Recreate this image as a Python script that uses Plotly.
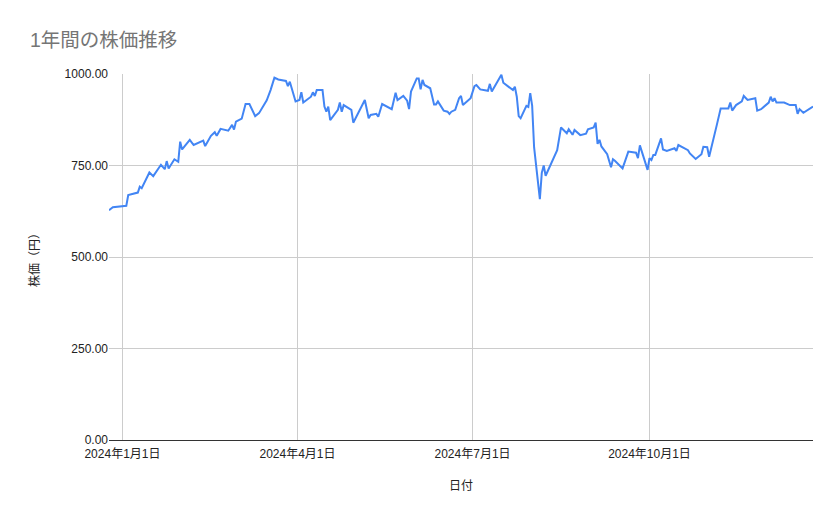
import plotly.graph_objects as go

dates = [
    "2023-12-25", "2023-12-27", "2024-01-03", "2024-01-04", "2024-01-09", "2024-01-10", "2024-01-11",
    "2024-01-15", "2024-01-17", "2024-01-21", "2024-01-23", "2024-01-24", "2024-01-25", "2024-01-28",
    "2024-01-30", "2024-01-31", "2024-02-01", "2024-02-05", "2024-02-07", "2024-02-12", "2024-02-13",
    "2024-02-16", "2024-02-18", "2024-02-19", "2024-02-21", "2024-02-25", "2024-02-27", "2024-02-28",
    "2024-02-29", "2024-03-03", "2024-03-05", "2024-03-07", "2024-03-10", "2024-03-12", "2024-03-16",
    "2024-03-18", "2024-03-20", "2024-03-22", "2024-03-26", "2024-03-27", "2024-03-28", "2024-03-31",
    "2024-04-02", "2024-04-03", "2024-04-04", "2024-04-08", "2024-04-09", "2024-04-10", "2024-04-11",
    "2024-04-14", "2024-04-15", "2024-04-16", "2024-04-17", "2024-04-18", "2024-04-22", "2024-04-23",
    "2024-04-24", "2024-04-25", "2024-04-29", "2024-04-30", "2024-05-06", "2024-05-08", "2024-05-09",
    "2024-05-12", "2024-05-13", "2024-05-15", "2024-05-20", "2024-05-22", "2024-05-23", "2024-05-26",
    "2024-05-28", "2024-05-29", "2024-05-30", "2024-06-02", "2024-06-03", "2024-06-04", "2024-06-05",
    "2024-06-06", "2024-06-09", "2024-06-11", "2024-06-12", "2024-06-13", "2024-06-16", "2024-06-18",
    "2024-06-19", "2024-06-20", "2024-06-22", "2024-06-24", "2024-06-25", "2024-06-26", "2024-06-30",
    "2024-07-02", "2024-07-03", "2024-07-05", "2024-07-09", "2024-07-10", "2024-07-11", "2024-07-16",
    "2024-07-17", "2024-07-22", "2024-07-23", "2024-07-24", "2024-07-25", "2024-07-26", "2024-07-29",
    "2024-07-30", "2024-07-31", "2024-08-01", "2024-08-02", "2024-08-05", "2024-08-06", "2024-08-07",
    "2024-08-08", "2024-08-14", "2024-08-16", "2024-08-19", "2024-08-20", "2024-08-22", "2024-08-23",
    "2024-08-26", "2024-08-29", "2024-08-30", "2024-09-02", "2024-09-03", "2024-09-04", "2024-09-05",
    "2024-09-06", "2024-09-09", "2024-09-11", "2024-09-12", "2024-09-13", "2024-09-17", "2024-09-20",
    "2024-09-24", "2024-09-25", "2024-09-26", "2024-09-30", "2024-10-01", "2024-10-02", "2024-10-03",
    "2024-10-04", "2024-10-07", "2024-10-08", "2024-10-10", "2024-10-14", "2024-10-15", "2024-10-16",
    "2024-10-21", "2024-10-22", "2024-10-25", "2024-10-28", "2024-10-29", "2024-10-31", "2024-11-01",
    "2024-11-05", "2024-11-07", "2024-11-11", "2024-11-12", "2024-11-13", "2024-11-15", "2024-11-18",
    "2024-11-19", "2024-11-21", "2024-11-25", "2024-11-26", "2024-11-28", "2024-12-02", "2024-12-03",
    "2024-12-04", "2024-12-05", "2024-12-06", "2024-12-10", "2024-12-13", "2024-12-16", "2024-12-17",
    "2024-12-18", "2024-12-20", "2024-12-23", "2024-12-25",
]

prices = [
    628, 636, 640, 669, 676, 692, 688,
    731, 721, 752, 740, 762, 742, 767,
    760, 815, 794, 820, 806, 818, 803,
    831, 841, 831, 850, 845, 861, 848,
    870, 878, 918, 918, 885, 893, 928,
    956, 990, 985, 981, 967, 979, 925,
    929, 950, 922, 938, 950, 940, 956,
    956, 911, 897, 911, 874, 902, 922,
    897, 915, 902, 867, 929, 879, 888,
    891, 883, 918, 904, 949, 929, 940,
    927, 904, 952, 988, 988, 958, 984,
    970, 961, 917, 917, 925, 900, 897,
    891, 897, 902, 934, 940, 915, 934,
    967, 970, 958, 954, 973, 952, 998,
    976, 956, 965, 938, 885, 879, 913,
    910, 948, 913, 800, 658, 730, 750,
    722, 792, 854, 838, 849, 834, 847,
    833, 837, 849, 854, 867, 809, 820,
    802, 781, 745, 767, 763, 742, 788,
    785, 770, 805, 738, 770, 765, 779,
    779, 824, 794, 790, 797, 790, 806,
    792, 783, 768, 781, 801, 800, 774,
    861, 906, 906, 922, 900, 915, 925,
    940, 929, 934, 900, 904, 922, 938,
    925, 934, 922, 922, 915, 915, 891,
    904, 894, 904, 911,
]

x_tick_vals = ["2024-01-01", "2024-04-01", "2024-07-01", "2024-10-01"]
x_tick_text = ["2024年1月1日", "2024年4月1日", "2024年7月1日", "2024年10月1日"]
y_tick_vals = [0, 250, 500, 750, 1000]

title_text = "1年間の株価推移"
x_title = "日付"
y_title = "株価（円）"

FONT = "Arial, 'Liberation Sans', 'Noto Sans CJK JP', sans-serif"

fig = go.Figure()
fig.add_trace(go.Scatter(
    x=dates, y=prices, mode="lines",
    line=dict(color="#4285F4", width=2),
    hoverinfo="x+y", showlegend=False,
))

W, H = 831, 511
fig.update_layout(
    width=W, height=H,
    margin=dict(l=101, r=26, t=66, b=79),
    paper_bgcolor="white", plot_bgcolor="white",
    font=dict(family=FONT, size=12, color="#222222"),
    title=dict(text=title_text, x=22 / W, xanchor="left", xref="container",
               y=1 - 32 / H, yanchor="middle", yref="container",
               font=dict(family=FONT, size=19.5, color="#757575")),
    xaxis=dict(
        type="date", range=[dates[0], dates[-1]],
        tickmode="array", tickvals=x_tick_vals, ticktext=x_tick_text,
        showgrid=True, gridcolor="#cccccc", gridwidth=1,
        showline=True, linecolor="#333333", linewidth=1,
        ticks="outside", ticklen=3, tickcolor="rgba(0,0,0,0)",
        tickfont=dict(size=12, color="#222222"),
        title=dict(text=x_title, font=dict(size=12, color="#222222"), standoff=21),
        zeroline=False, automargin=False,
    ),
    yaxis=dict(
        range=[0, 1000], tickmode="array", tickvals=y_tick_vals,
        tickformat=".2f",
        showgrid=True, gridcolor="#cccccc", gridwidth=1,
        zeroline=False, showline=False,
        ticks="",
        tickfont=dict(size=12, color="#222222"),
        title=dict(text=y_title, font=dict(size=12, color="#222222"), standoff=22),
        automargin=False,
    ),
)

fig.write_html("out.html")
